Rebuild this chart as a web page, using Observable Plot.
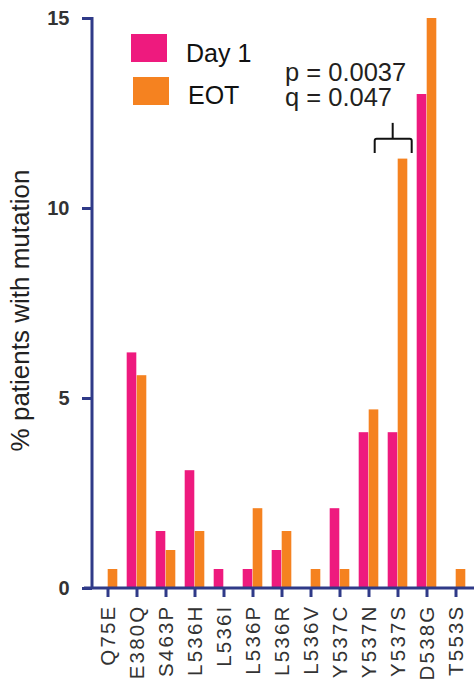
<!DOCTYPE html>
<html>
<head>
<meta charset="utf-8">
<script src="https://cdn.jsdelivr.net/npm/d3@7"></script>
<script src="https://cdn.jsdelivr.net/npm/@observablehq/plot@0.6"></script>
<style>
  html, body { margin: 0; padding: 0; background: #fff; }
  #wrap { position: relative; width: 474px; height: 681px; font-family: "Liberation Sans", Arial, sans-serif; }
  #wrap svg { display: block; }
  .ov { position: absolute; line-height: 1; white-space: nowrap; }
  #wrap g[aria-label="x-axis tick label"] text { letter-spacing: 2.2px; }
</style>
</head>
<body>
<div id="wrap"></div>
<script>
const categories = ["Q75E","E380Q","S463P","L536H","L536I","L536P","L536R","L536V","Y537C","Y537N","Y537S","D538G","T553S"];
const day1 = [0, 6.2, 1.5, 3.1, 0.5, 0.5, 1.0, 0, 2.1, 4.1, 4.1, 13.0, 0];
const eot  = [0.5, 5.6, 1.0, 1.5, 0, 2.1, 1.5, 0.5, 0.5, 4.7, 11.3, 15.0, 0.5];
const yTicks = [0, 5, 10, 15];
const seriesNames = ["Day 1", "EOT"];
const seriesColors = ["#ee1a7e", "#f58220"];
const statLines = ["p = 0.0037", "q = 0.047"];
const statCategory = "Y537S";
const bracketY = [11.45, 11.82, 12.24]; // leg bottom, bar, stem top
const yLabel = "% patients with mutation";

const W = 474, H = 681, mL = 90, mR = 2, mT = 18, mB = 93;
const navy = "#2f3a88";
const step = (W - mL - mR) / categories.length;
const barW = 10;

const rows = categories.map((c, i) => ({cat: c, day1: day1[i], eot: eot[i]}));

function axisLines(index, scales, values, dim) {
  const g = d3.create("svg:g");
  const y0 = scales.y(0);
  g.append("line").attr("x1", dim.marginLeft - 6).attr("x2", dim.width)
    .attr("y1", y0).attr("y2", y0).attr("stroke", navy).attr("stroke-width", 3);
  const xa = dim.marginLeft + 2;
  g.append("line").attr("x1", xa).attr("x2", xa)
    .attr("y1", scales.y(yTicks[yTicks.length - 1]) - 1).attr("y2", y0)
    .attr("stroke", navy).attr("stroke-width", 3);
  return g.node();
}

function bracket(index, scales, values, dim) {
  const bw = (dim.width - dim.marginLeft - dim.marginRight) / categories.length;
  const c = scales.x(statCategory) + bw / 2;
  const x1 = c - 23, x2 = c + 14, xs = c - 5;
  const yb = scales.y(bracketY[0]), yh = scales.y(bracketY[1]), yt = scales.y(bracketY[2]);
  const g = d3.create("svg:g").attr("fill", "none").attr("stroke", "#111").attr("stroke-width", 2);
  g.append("path").attr("d", `M${x1},${yb}L${x1},${yh + 2}Q${x1},${yh} ${x1 + 2},${yh}L${x2 - 2},${yh}Q${x2},${yh} ${x2},${yh + 2}L${x2},${yb}`);
  g.append("line").attr("x1", xs).attr("x2", xs).attr("y1", yt).attr("y2", yh);
  return g.node();
}

const chart = Plot.plot({
  width: W, height: H,
  marginLeft: mL, marginRight: mR, marginTop: mT, marginBottom: mB,
  style: {fontFamily: "'Liberation Sans', Arial, sans-serif", background: "#fff"},
  x: {domain: categories, padding: 0},
  y: {domain: [0, 15]},
  marks: [
    Plot.barY(rows, {x: "cat", y: "day1", fill: seriesColors[0], insetLeft: step / 2 - barW, insetRight: step / 2}),
    Plot.barY(rows, {x: "cat", y: "eot", fill: seriesColors[1], insetLeft: step / 2, insetRight: step / 2 - barW}),
    Plot.axisY({ticks: yTicks, tickSize: 10, tickPadding: 13, stroke: navy, strokeWidth: 3, fontWeight: "bold", fontSize: 20, fill: "#333", label: null, dx: 2}),
    Plot.axisX({tickRotate: -90, tickSize: 9, tickPadding: 7, stroke: navy, strokeWidth: 3, fontSize: 20.5, fill: "#333", label: null}),
    Plot.text([yLabel], {text: d => d, frameAnchor: "left", textAnchor: "middle", rotate: -90, dx: -70, dy: 7, lineAnchor: "middle", fontSize: 26, fill: "#222"}),
    axisLines,
    bracket
  ]
});

const wrap = document.getElementById("wrap");
wrap.appendChild(chart);

// Legend
const legendPos = [{sx: 131, sy: 34, tx: 186, tb: 62}, {sx: 133, sy: 77, tx: 188, tb: 104}];
seriesNames.forEach((name, i) => {
  const p = legendPos[i];
  const sw = document.createElement("div");
  sw.className = "ov";
  Object.assign(sw.style, {left: p.sx + "px", top: p.sy + "px", width: "36px", height: "28px", background: seriesColors[i]});
  wrap.appendChild(sw);
  const t = document.createElement("div");
  t.className = "ov";
  t.textContent = name;
  Object.assign(t.style, {left: p.tx + "px", top: (p.tb - 21.2) + "px", fontSize: "25px", color: "#111"});
  wrap.appendChild(t);
});

// Stats annotation
statLines.forEach((s, i) => {
  const t = document.createElement("div");
  t.className = "ov";
  t.textContent = s;
  Object.assign(t.style, {left: "285px", top: (83 + i * 25 - 21.6) + "px", fontSize: "25.5px", color: "#231f20", lineHeight: "0.9"});
  wrap.appendChild(t);
});
</script>
</body>
</html>
